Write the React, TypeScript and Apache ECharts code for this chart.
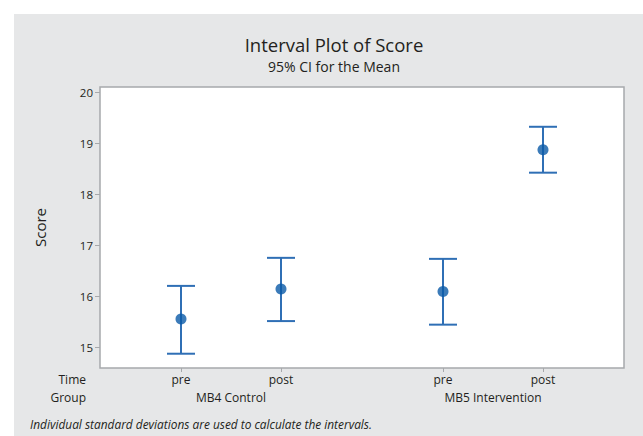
import React, { useEffect, useRef } from "react";
import * as echarts from "echarts";

const groups = ["MB4 Control", "MB5 Intervention"];
const times = ["pre", "post"];
const means = [15.55, 16.14, 16.09, 18.87];
const lower = [14.87, 15.51, 15.44, 18.42];
const upper = [16.2, 16.75, 16.73, 19.32];
const yTicks = [15, 16, 17, 18, 19, 20];

const FONT = "Open Sans";
const GROUP_STEP = 2.62;
const X_PAD = 0.81;

export default function App() {
  const ref = useRef<HTMLDivElement>(null);
  useEffect(() => {
    document.body.style.margin = "0";
    const chart = echarts.init(ref.current!, null, { renderer: "svg" });
    const pts: { x: number; label: string; m: number; lo: number; hi: number }[] = [];
    groups.forEach((g, gi) =>
      times.forEach((t, ti) => {
        const i = gi * times.length + ti;
        pts.push({ x: gi * GROUP_STEP + ti, label: t, m: means[i], lo: lower[i], hi: upper[i] });
      })
    );
    const xs = pts.map((p) => p.x);
    const xMin = -X_PAD;
    const xMax = (groups.length - 1) * GROUP_STEP + (times.length - 1) + X_PAD;
    const groupCenters = groups.map((_, gi) => gi * GROUP_STEP + (times.length - 1) / 2);
    const labelOf = (v: number) => {
      const p = pts.find((q) => Math.abs(q.x - v) < 1e-6);
      return p ? p.label : "";
    };
    const groupOf = (v: number) => {
      const i = groupCenters.findIndex((c) => Math.abs(c - v) < 1e-6);
      return i >= 0 ? groups[i] : "";
    };
    const blue = "#0a5aa8";
    const lineBlue = "#2f6fb5";
    const textColor = "#231f20";
    chart.setOption({
      animation: false,
      backgroundColor: "transparent",
      grid: {
        left: 100,
        top: 87,
        right: 19,
        bottom: 68,
        show: true,
        backgroundColor: "#ffffff",
        borderColor: "#a7a9ac",
        borderWidth: 1.5,
      },
      xAxis: [
        {
          type: "value",
          min: xMin,
          max: xMax,
          axisLine: { show: false, onZero: false },
          splitLine: { show: false },
          axisTick: { show: true, customValues: xs, length: 4, lineStyle: { color: "#a7a9ac" } },
          axisLabel: {
            customValues: xs,
            formatter: (v: number) => labelOf(v),
            color: textColor,
            fontFamily: FONT,
            fontSize: 12,
            margin: 5,
          },
        },
        {
          type: "value",
          position: "bottom",
          offset: 18,
          min: xMin,
          max: xMax,
          axisLine: { show: false, onZero: false },
          splitLine: { show: false },
          axisTick: { show: false },
          axisLabel: {
            customValues: groupCenters,
            formatter: (v: number) => groupOf(v),
            color: textColor,
            fontFamily: FONT,
            fontSize: 12,
            margin: 5,
          },
        },
      ],
      yAxis: {
        type: "value",
        min: 14.59,
        max: 20.1,
        name: "Score",
        nameLocation: "middle",
        nameGap: 53,
        nameTextStyle: { fontFamily: FONT, fontSize: 15, color: textColor },
        axisLine: { show: false, onZero: false },
        splitLine: { show: false },
        axisTick: { show: true, customValues: yTicks, length: 5, lineStyle: { color: "#a7a9ac" } },
        axisLabel: {
          customValues: yTicks,
          color: textColor,
          fontFamily: FONT,
          fontSize: 11.5,
          margin: 7,
        },
      },
      graphic: [
        {
          type: "text",
          x: 334,
          y: 44,
          style: {
            text: "Interval Plot of Score",
            align: "center",
            verticalAlign: "middle",
            fontFamily: FONT,
            fontSize: 18.5,
            lineHeight: 20,
            fill: textColor,
          },
        },
        {
          type: "text",
          x: 334,
          y: 66,
          style: {
            text: "95% CI for the Mean",
            align: "center",
            verticalAlign: "middle",
            fontFamily: FONT,
            fontSize: 14,
            lineHeight: 15,
            fill: textColor,
          },
        },
        {
          type: "text",
          x: 86,
          y: 379,
          style: { text: "Time", align: "right", verticalAlign: "middle", fontFamily: FONT, fontSize: 12, fill: textColor },
        },
        {
          type: "text",
          x: 86,
          y: 397,
          style: { text: "Group", align: "right", verticalAlign: "middle", fontFamily: FONT, fontSize: 12, fill: textColor },
        },
        {
          type: "text",
          x: 30,
          y: 424,
          style: {
            text: "Individual standard deviations are used to calculate the intervals.",
            align: "left",
            verticalAlign: "middle",
            fontFamily: FONT,
            fontStyle: "italic",
            fontSize: 11.9,
            fill: textColor,
          },
        },
      ],
      series: [
        {
          type: "custom",
          xAxisIndex: 0,
          data: pts.map((p) => [p.x, p.lo, p.hi]),
          renderItem: (params: any, api: any) => {
            const x = api.value(0);
            const lo = api.coord([x, api.value(1)]);
            const hi = api.coord([x, api.value(2)]);
            const hw = 14;
            const style = { stroke: lineBlue, lineWidth: 2 };
            return {
              type: "group",
              children: [
                { type: "line", shape: { x1: lo[0], y1: lo[1], x2: hi[0], y2: hi[1] }, style },
                { type: "line", shape: { x1: lo[0] - hw, y1: lo[1], x2: lo[0] + hw, y2: lo[1] }, style },
                { type: "line", shape: { x1: hi[0] - hw, y1: hi[1], x2: hi[0] + hw, y2: hi[1] }, style },
              ],
            };
          },
          z: 2,
        },
        {
          type: "scatter",
          xAxisIndex: 0,
          data: pts.map((p) => [p.x, p.m]),
          symbol: "circle",
          symbolSize: 11,
          itemStyle: { color: blue },
          z: 3,
        },
      ],
    });
    return () => chart.dispose();
  }, []);
  return (
    <div style={{ position: "absolute", left: 0, top: 0, width: 643, height: 436, background: "#fff" }}>
      <div style={{ position: "absolute", left: 14, top: 14, width: 629, height: 422, background: "#e6e7e8" }} />
      <div ref={ref} style={{ position: "absolute", left: 0, top: 0, width: 643, height: 436 }} />
    </div>
  );
}
